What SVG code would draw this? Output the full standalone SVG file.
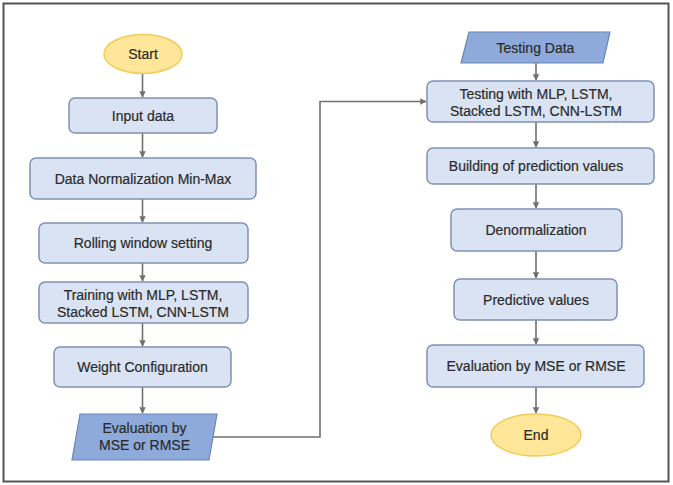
<svg xmlns="http://www.w3.org/2000/svg" width="673" height="485" viewBox="0 0 673 485">
<style>
.box{fill:#dae3f3;stroke:#7f93b3;stroke-width:1.5}
.para{fill:#8eaadb;stroke:#6a86bb;stroke-width:1.2}
.term{fill:#ffe699;stroke:#f2cc5a;stroke-width:1.5}
.t{font-family:"Liberation Sans",Arial,sans-serif;font-size:14px;fill:#2b2b2b;text-anchor:middle;stroke:#2b2b2b;stroke-width:0.2}
.c{fill:none;stroke:#707070;stroke-width:1.6}
</style>
<defs>
<marker id="ah" viewBox="0 0 10 10" refX="9" refY="5" markerWidth="4" markerHeight="4" orient="auto">
<path d="M0,0 L10,5 L0,10 z" fill="#707070"/>
</marker>
</defs>
<rect x="0" y="0" width="673" height="485" fill="#ffffff"/>
<rect x="3.5" y="3.5" width="665" height="478" fill="none" stroke="#555" stroke-width="2"/>
<g id="connectors">
<line class="c" x1="142.5" y1="74" x2="142.5" y2="97" marker-end="url(#ah)"/>
<line class="c" x1="142.5" y1="133" x2="142.5" y2="157" marker-end="url(#ah)"/>
<line class="c" x1="142.5" y1="199" x2="142.5" y2="222" marker-end="url(#ah)"/>
<line class="c" x1="142.5" y1="263" x2="142.5" y2="281" marker-end="url(#ah)"/>
<line class="c" x1="142.5" y1="323" x2="142.5" y2="346" marker-end="url(#ah)"/>
<line class="c" x1="142.5" y1="387" x2="142.5" y2="413" marker-end="url(#ah)"/>
<polyline class="c" points="212,437 320,437 320,101.5 426,101.5" marker-end="url(#ah)"/>
<line class="c" x1="536" y1="63" x2="536" y2="80" marker-end="url(#ah)"/>
<line class="c" x1="536" y1="122" x2="536" y2="147" marker-end="url(#ah)"/>
<line class="c" x1="536" y1="184" x2="536" y2="208" marker-end="url(#ah)"/>
<line class="c" x1="536" y1="251" x2="536" y2="278" marker-end="url(#ah)"/>
<line class="c" x1="536" y1="320" x2="536" y2="344" marker-end="url(#ah)"/>
<line class="c" x1="536" y1="387" x2="536" y2="413" marker-end="url(#ah)"/>
</g>
<g id="start">
<ellipse class="term" cx="143" cy="54" rx="39" ry="19.5"/>
<text class="t" x="143" y="59">Start</text>
</g>
<g id="input">
<rect class="box" x="69" y="98" width="148" height="35" rx="6"/>
<text class="t" x="143" y="120.5">Input data</text>
</g>
<g id="norm">
<rect class="box" x="30" y="158" width="226" height="41" rx="6"/>
<text class="t" x="143" y="183.5">Data Normalization Min-Max</text>
</g>
<g id="rolling">
<rect class="box" x="39" y="223" width="209" height="40" rx="6"/>
<text class="t" x="143" y="248">Rolling window setting</text>
</g>
<g id="training">
<rect class="box" x="39" y="282" width="209" height="41" rx="6"/>
<text class="t" x="143" y="299.5">Training with MLP, LSTM,</text>
<text class="t" x="143" y="316.5">Stacked LSTM, CNN-LSTM</text>
</g>
<g id="weight">
<rect class="box" x="54" y="347" width="177" height="40" rx="6"/>
<text class="t" x="142.5" y="372">Weight Configuration</text>
</g>
<g id="eval1">
<polygon class="para" points="80,414 217,414 209,460 72,460"/>
<text class="t" x="144.5" y="433">Evaluation by</text>
<text class="t" x="144.5" y="450">MSE or RMSE</text>
</g>
<g id="testdata">
<polygon class="para" points="469,32 610,32 603,63 461,63"/>
<text class="t" x="535.5" y="52.5">Testing Data</text>
</g>
<g id="testing">
<rect class="box" x="427" y="81" width="227" height="41" rx="6"/>
<text class="t" x="536" y="98.5">Testing with MLP, LSTM,</text>
<text class="t" x="536" y="115.5">Stacked LSTM, CNN-LSTM</text>
</g>
<g id="building">
<rect class="box" x="427" y="148" width="227" height="36" rx="6"/>
<text class="t" x="536" y="171">Building of prediction values</text>
</g>
<g id="denorm">
<rect class="box" x="451" y="209" width="171" height="42" rx="6"/>
<text class="t" x="536" y="235">Denormalization</text>
</g>
<g id="predictive">
<rect class="box" x="454" y="279" width="163" height="41" rx="6"/>
<text class="t" x="536" y="304.5">Predictive values</text>
</g>
<g id="eval2">
<rect class="box" x="427" y="345" width="217" height="42" rx="6"/>
<text class="t" x="536" y="371">Evaluation by MSE or RMSE</text>
</g>
<g id="end">
<ellipse class="term" cx="536" cy="435" rx="45" ry="21"/>
<text class="t" x="536" y="440">End</text>
</g>
</svg>
